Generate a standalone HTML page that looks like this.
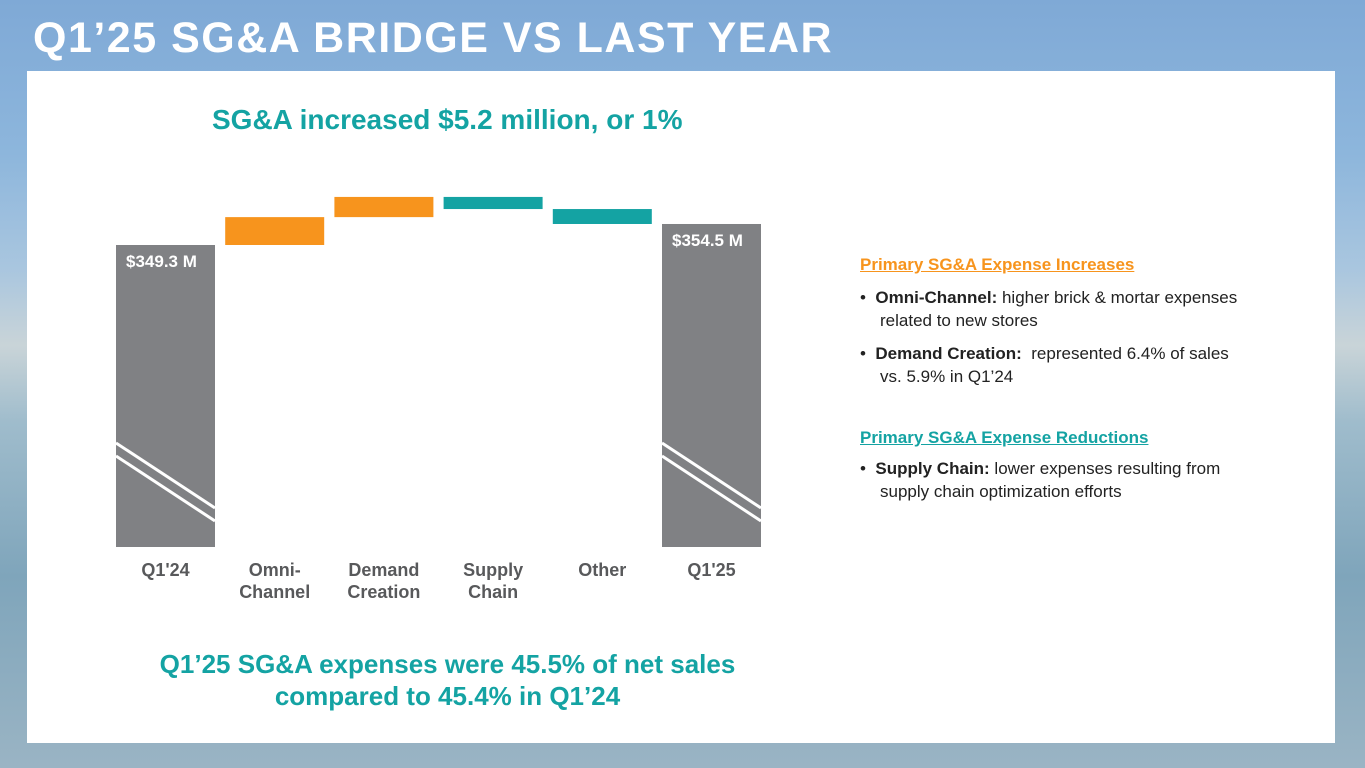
<!DOCTYPE html>
<html><head><meta charset="utf-8"><style>
body{margin:0;width:1365px;height:768px;overflow:hidden;position:relative;font-family:"Liberation Sans",sans-serif;
background:linear-gradient(180deg,#7fa9d6 0%,#8db6dc 20%,#a9c6df 35%,#c9d4d8 45%,#9fbccc 55%,#7fa5bb 75%,#9ab4c4 100%);}
#title{position:absolute;left:33px;top:14px;color:#fff;font-weight:bold;font-size:43px;letter-spacing:1.5px;margin:0}
#panel{position:absolute;left:27px;top:71px;width:1308px;height:672px;background:#fff}
.teal{color:#14a3a3}.orange{color:#f7941d}
</style></head><body>
<h1 id="title">Q1’25 SG&amp;A BRIDGE VS LAST YEAR</h1>
<div id="panel"></div>
<div class="teal" style="position:absolute;left:212px;top:104px;font-size:28px;font-weight:bold">SG&amp;A increased $5.2 million, or 1%</div>
<svg id="chart" width="1365" height="768" style="position:absolute;left:0;top:0"></svg>
<div class="teal" style="position:absolute;left:110px;top:648px;width:675px;text-align:center;font-size:26px;font-weight:bold;line-height:32px">Q1’25 SG&amp;A expenses were 45.5% of net sales<br>compared to 45.4% in Q1’24</div>
<div style="position:absolute;left:860px;top:253px;width:445px;font-size:17px;color:#222;line-height:23px">
<div class="orange" style="font-weight:bold;text-decoration:underline;margin-bottom:10px">Primary SG&amp;A Expense Increases</div>
<div style="padding-left:20px;text-indent:-20px;margin-bottom:10px">•&nbsp;&nbsp;<b>Omni-Channel:</b> higher brick &amp; mortar expenses<br>related to new stores</div>
<div style="padding-left:20px;text-indent:-20px;margin-bottom:38px">•&nbsp;&nbsp;<b>Demand Creation:</b>&nbsp; represented 6.4% of sales<br>vs. 5.9% in Q1’24</div>
<div class="teal" style="font-weight:bold;text-decoration:underline;margin-bottom:8px">Primary SG&amp;A Expense Reductions</div>
<div style="padding-left:20px;text-indent:-20px">•&nbsp;&nbsp;<b>Supply Chain:</b> lower expenses resulting from<br>supply chain optimization efforts</div>
</div>
<script>
const categories=["Q1'24","Omni-\nChannel","Demand\nCreation","Supply\nChain","Other","Q1'25"];
const startValue=349.3;
const deltas=[6.9,5.0,-3.0,-3.7];
const endValue=354.5;
const totalLabels=["$349.3 M","$354.5 M"];
const svg=document.getElementById('chart');
const NS='http://www.w3.org/2000/svg';
const baseY=547, refV=349.3, refY=245, pxPerM=4.04;
function y(v){return refY-(v-refV)*pxPerM;}
function xL(i){return 116+i*109.2;}
const bw=99;
function mk(t,a){const e=document.createElementNS(NS,t);for(const k in a)e.setAttribute(k,a[k]);svg.appendChild(e);return e;}
function totalBar(i,v,lab){
  const r=mk('rect',{x:xL(i),y:y(v),width:bw,height:baseY-y(v),fill:'#808184'});
  
  
  const x0=xL(i),x1=x0+bw;
  [0,13].forEach(o=>{const l=mk('line',{x1:x0,y1:443+o,x2:x1,y2:508+o,stroke:'#fff','stroke-width':3});
    
    });
  const t=mk('text',{x:x0+10,y:y(v)+22,fill:'#fff','font-size':17,'font-weight':'bold','font-family':'Liberation Sans, sans-serif'});
  t.textContent=lab;
  
  
}
totalBar(0,startValue,totalLabels[0]);
let cur=startValue;
deltas.forEach((d,k)=>{
  const a=cur,b=cur+d;cur=b;
  const top=y(Math.max(a,b)),bot=y(Math.min(a,b));
  const r=mk('rect',{x:xL(k+1),y:top,width:bw,height:bot-top,fill:d>=0?'#f7941d':'#14a3a3'});
  
  
});
totalBar(5,endValue,totalLabels[1]);
categories.forEach((c,i)=>{
  c.split('\n').forEach((ln,j)=>{
    const t=mk('text',{x:xL(i)+bw/2,y:576+j*22,'text-anchor':'middle',fill:'#58595b','font-size':18,'font-weight':'bold','font-family':'Liberation Sans, sans-serif'});
    t.textContent=ln;
    
    
  });
});
</script>
</body></html>
